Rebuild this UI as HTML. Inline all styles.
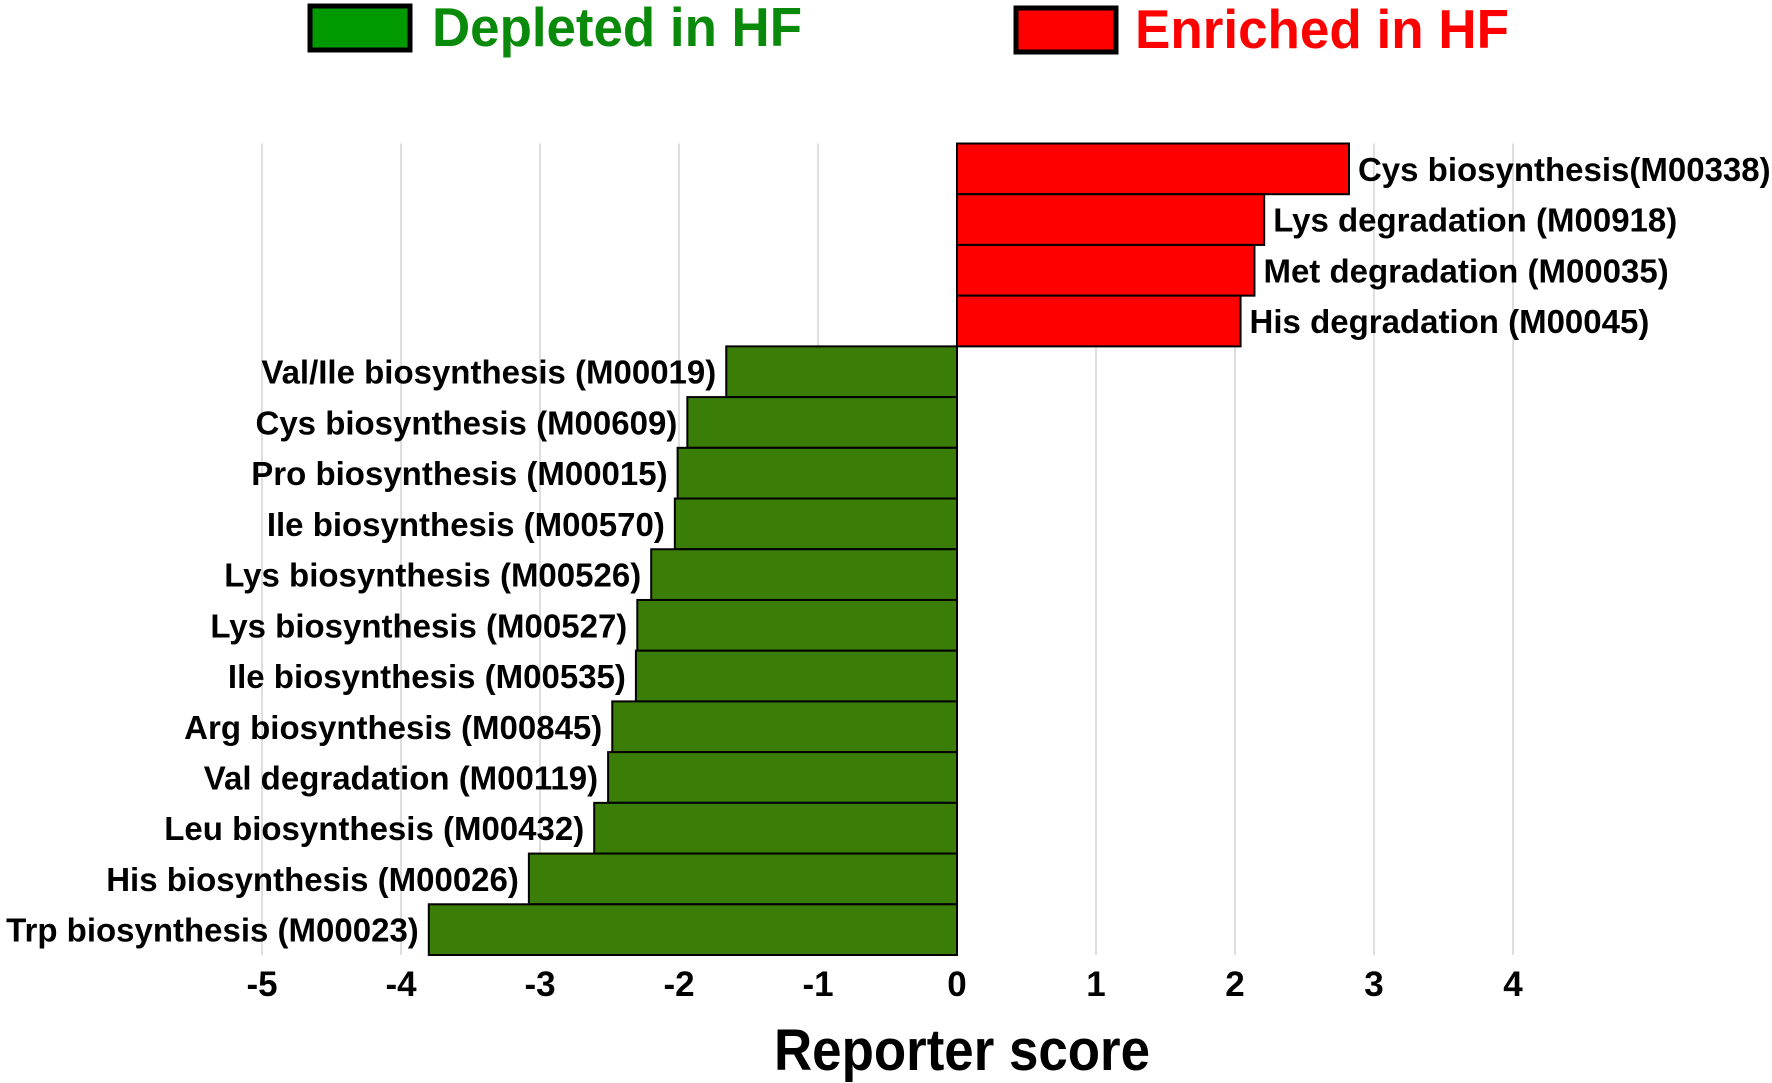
<!DOCTYPE html>
<html><head><meta charset="utf-8"><style>
html,body{margin:0;padding:0;background:#fff;}
svg{display:block;font-family:"Liberation Sans",Arial,sans-serif;font-weight:bold;}
</style></head><body>
<svg id="chart" width="1772" height="1083" viewBox="0 0 1772 1083">
<g>
<rect x="310" y="6" width="100" height="44" fill="#009900" stroke="#000" stroke-width="5"/>
<text x="432" y="46" font-size="55" textLength="370" lengthAdjust="spacingAndGlyphs" fill="#0a8a0a">Depleted in HF</text>
<rect x="1016" y="8" width="100" height="44" fill="#ff0000" stroke="#000" stroke-width="5"/>
<text x="1135" y="48" font-size="55" textLength="374" lengthAdjust="spacingAndGlyphs" fill="#ff0000">Enriched in HF</text>
</g>
<g id="grid"></g><g id="bars"></g><g id="labels"></g><g id="ticks"></g>
<text x="774" y="1070" font-size="58" textLength="376" lengthAdjust="spacingAndGlyphs" fill="#000">Reporter score</text>
</svg>
<script>
const categories=["Cys biosynthesis(M00338)","Lys degradation (M00918)","Met degradation (M00035)","His degradation (M00045)","Val/Ile biosynthesis (M00019)","Cys biosynthesis (M00609)","Pro biosynthesis (M00015)","Ile biosynthesis (M00570)","Lys biosynthesis (M00526)","Lys biosynthesis (M00527)","Ile biosynthesis (M00535)","Arg biosynthesis (M00845)","Val degradation (M00119)","Leu biosynthesis (M00432)","His biosynthesis (M00026)","Trp biosynthesis (M00023)"];
const scores=[2.82,2.21,2.14,2.04,-1.66,-1.94,-2.01,-2.03,-2.20,-2.30,-2.31,-2.48,-2.51,-2.61,-3.08,-3.80];
const tickValues=[-5,-4,-3,-2,-1,0,1,2,3,4];
const NS="http://www.w3.org/2000/svg";
const x0=957,unit=139,plotTop=143.5,plotBot=955;
const bh=(plotBot-plotTop)/categories.length;
const X=v=>x0+v*unit;
const Y=i=>plotTop+i*bh;
function mk(tag,attrs,parent){const e=document.createElementNS(NS,tag);for(const k in attrs)e.setAttribute(k,attrs[k]);document.getElementById(parent).appendChild(e);return e;}
tickValues.forEach(t=>{
 const l=mk('line',{x1:X(t),x2:X(t),y1:plotTop,y2:plotBot,stroke:'#d4d4d4','stroke-width':1.5},'grid');
 
 
 const tx=mk('text',{x:X(t),y:996,'font-size':35,'text-anchor':'middle',fill:'#000'},'ticks');
 tx.textContent=t;
 
 
});
categories.forEach((c,i)=>{
 const v=scores[i];
 const xa=Math.min(X(0),X(v)),w=Math.abs(X(v)-X(0));
 const r=mk('rect',{x:xa,y:Y(i),width:w,height:bh,fill:v>0?'#ff0000':'#3a7d07',stroke:'#000','stroke-width':2},'bars');
 
 
 const t=mk('text',{x:v>0?X(v)+9:X(v)-10,y:Y(i)+bh/2+12,'font-size':33,'text-anchor':v>0?'start':'end',fill:'#000'},'labels');
 t.textContent=c;
 
 
});
</script>
</body></html>
